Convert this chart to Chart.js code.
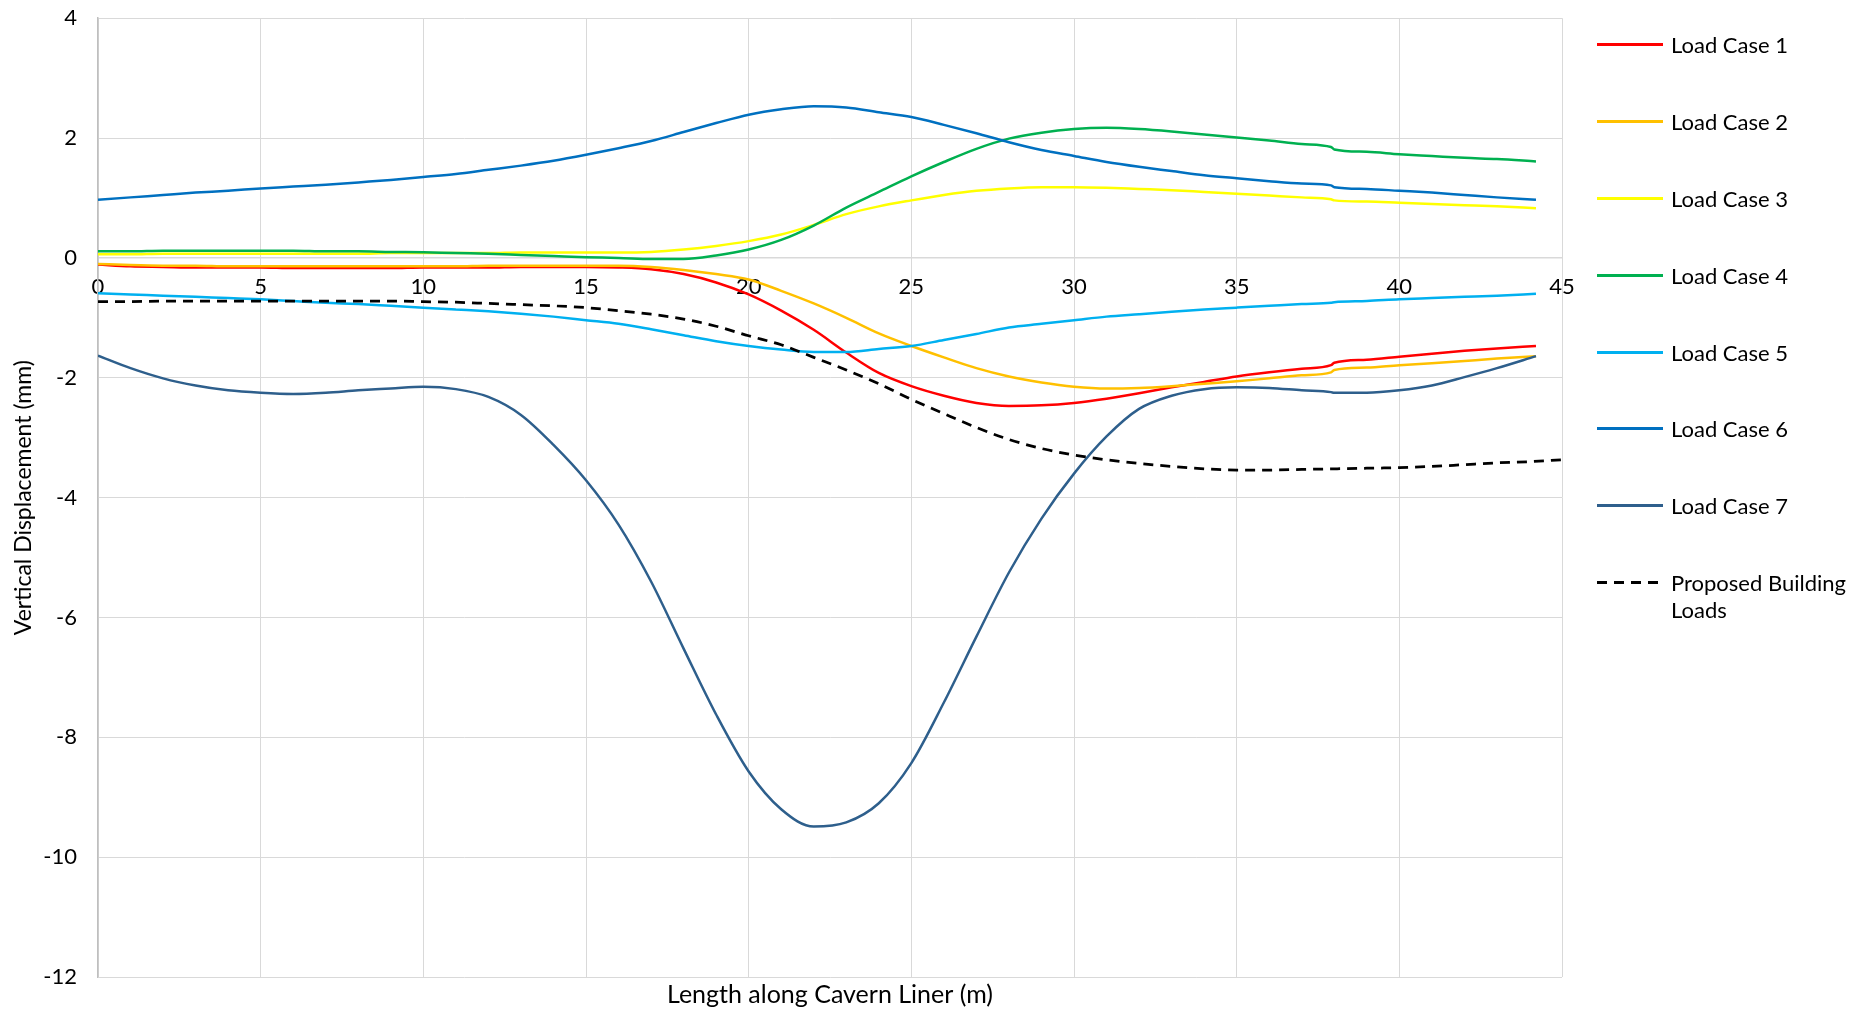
<!DOCTYPE html>
<html>
<head>
<meta charset="utf-8">
<script src="https://cdn.jsdelivr.net/npm/chart.js@4.4.1/dist/chart.umd.min.js"></script>
<style>
  html, body { margin: 0; padding: 0; background: #fff; overflow: hidden; }
  #wrap { position: relative; width: 1865px; height: 1012px; overflow: hidden; font-family: Lato, "Open Sans", sans-serif; }
  #chart { position: absolute; left: 0; top: -16px; }
  .lg { position: absolute; left: 1597px; width: 66px; height: 3px; }
  .lt { position: absolute; left: 1671px; font-size: 22px; line-height: 27px; color: #000; white-space: nowrap; }
</style>
</head>
<body>
<div id="wrap">
  <canvas id="chart" width="1865" height="1028"></canvas>
  <div id="legend"></div>
</div>
<script>
// Length along cavern liner (m) for the load cases
const lengthM = [0,1,2,3,4,5,6,7,8,9,10,11,12,13,14,15,16,17,18,19,20,21,22,23,24,25,26,27,28,29,30,31,32,33,34,35,36,37,37.9,38,39,40,41,42,43,44.2];
// Length along cavern liner (m) for the proposed building loads
const lengthBuilding = [0,1,2,3,4,5,6,7,8,9,10,11,12,13,14,15,16,17,18,19,20,21,22,23,24,25,26,27,28,29,30,31,32,33,34,35,36,37,38,39,40,41,42,43,44,45];

const seriesNames = ["Load Case 1","Load Case 2","Load Case 3","Load Case 4","Load Case 5","Load Case 6","Load Case 7","Proposed Building Loads"];
const seriesColors = ["#FF0000","#FFC000","#FFFF00","#00B050","#00B0F0","#0070C0","#2E5F8C","#000000"];

const loadCase1 = [-0.11,-0.14,-0.15,-0.16,-0.16,-0.16,-0.17,-0.17,-0.17,-0.17,-0.16,-0.16,-0.16,-0.15,-0.15,-0.15,-0.16,-0.19,-0.27,-0.41,-0.61,-0.88,-1.20,-1.58,-1.92,-2.14,-2.30,-2.42,-2.47,-2.46,-2.42,-2.35,-2.26,-2.16,-2.07,-1.98,-1.91,-1.85,-1.79,-1.75,-1.70,-1.65,-1.60,-1.55,-1.51,-1.47];
const loadCase2 = [-0.10,-0.12,-0.13,-0.13,-0.14,-0.14,-0.14,-0.14,-0.14,-0.14,-0.14,-0.14,-0.13,-0.13,-0.13,-0.13,-0.13,-0.15,-0.20,-0.27,-0.36,-0.55,-0.76,-1.00,-1.26,-1.47,-1.66,-1.84,-1.98,-2.08,-2.15,-2.18,-2.17,-2.14,-2.10,-2.06,-2.01,-1.96,-1.91,-1.87,-1.83,-1.79,-1.76,-1.72,-1.68,-1.64];
const loadCase3 = [0.06,0.06,0.07,0.07,0.07,0.07,0.07,0.07,0.07,0.08,0.08,0.08,0.08,0.09,0.09,0.09,0.09,0.10,0.14,0.20,0.28,0.39,0.55,0.73,0.86,0.96,1.05,1.12,1.16,1.18,1.18,1.17,1.15,1.13,1.10,1.07,1.04,1.01,0.98,0.96,0.94,0.92,0.90,0.88,0.86,0.83];
const loadCase4 = [0.11,0.11,0.12,0.12,0.12,0.12,0.12,0.11,0.11,0.10,0.095,0.08,0.07,0.05,0.03,0.01,0.00,-0.02,-0.02,0.04,0.14,0.30,0.54,0.84,1.10,1.36,1.60,1.82,1.99,2.09,2.15,2.17,2.15,2.11,2.06,2.01,1.96,1.90,1.85,1.81,1.77,1.73,1.70,1.67,1.65,1.61];
const loadCase5 = [-0.59,-0.61,-0.63,-0.65,-0.67,-0.69,-0.72,-0.75,-0.77,-0.80,-0.83,-0.86,-0.89,-0.93,-0.98,-1.04,-1.10,-1.19,-1.29,-1.39,-1.47,-1.53,-1.57,-1.57,-1.52,-1.47,-1.37,-1.27,-1.16,-1.10,-1.04,-0.98,-0.94,-0.90,-0.86,-0.83,-0.80,-0.77,-0.75,-0.74,-0.72,-0.69,-0.67,-0.65,-0.63,-0.60];
const loadCase6 = [0.97,1.01,1.05,1.09,1.12,1.16,1.19,1.22,1.26,1.30,1.35,1.40,1.47,1.54,1.62,1.72,1.83,1.95,2.10,2.25,2.39,2.48,2.53,2.51,2.43,2.35,2.22,2.08,1.93,1.80,1.70,1.60,1.52,1.45,1.38,1.33,1.28,1.24,1.21,1.18,1.15,1.12,1.09,1.05,1.01,0.97];
const loadCase7 = [-1.63,-1.84,-2.01,-2.13,-2.21,-2.25,-2.27,-2.25,-2.21,-2.18,-2.15,-2.19,-2.32,-2.62,-3.12,-3.71,-4.45,-5.40,-6.52,-7.62,-8.57,-9.20,-9.49,-9.42,-9.10,-8.43,-7.42,-6.32,-5.25,-4.35,-3.60,-2.98,-2.52,-2.30,-2.19,-2.16,-2.17,-2.21,-2.24,-2.25,-2.25,-2.21,-2.13,-1.99,-1.84,-1.64];
const buildingLoads = [-0.73,-0.73,-0.72,-0.72,-0.72,-0.72,-0.72,-0.72,-0.72,-0.72,-0.73,-0.74,-0.76,-0.78,-0.80,-0.83,-0.88,-0.94,-1.02,-1.14,-1.30,-1.45,-1.66,-1.87,-2.10,-2.36,-2.60,-2.83,-3.03,-3.18,-3.29,-3.37,-3.43,-3.48,-3.52,-3.54,-3.54,-3.53,-3.52,-3.51,-3.50,-3.48,-3.45,-3.42,-3.40,-3.37];

const yTicks = [-12,-10,-8,-6,-4,-2,0,2,4];
const xTicks = [0,5,10,15,20,25,30,35,40,45];

const FONT = "Lato, 'Open Sans', sans-serif";

function pts(xs, ys) { return ys.map((v, i) => ({ x: xs[i], y: v })); }

const allValues = [loadCase1, loadCase2, loadCase3, loadCase4, loadCase5, loadCase6, loadCase7];
const datasets = allValues.map((vals, i) => ({
  label: seriesNames[i],
  data: pts(lengthM, vals),
  borderColor: seriesColors[i],
  backgroundColor: seriesColors[i],
  borderWidth: 2.5,
  pointRadius: 0,
  cubicInterpolationMode: 'monotone',
  fill: false,
  order: 20 - i
}));
datasets.push({
  label: seriesNames[7],
  data: pts(lengthBuilding, buildingLoads),
  borderColor: seriesColors[7],
  backgroundColor: seriesColors[7],
  borderWidth: 2.75,
  borderDash: [10, 7],
  pointRadius: 0,
  cubicInterpolationMode: 'monotone',
  fill: false,
  order: 1
});

new Chart(document.getElementById('chart'), {
  type: 'line',
  data: { datasets },
  options: {
    responsive: false,
    animation: false,
    layout: { padding: { top: 0, right: 303, bottom: 0, left: 0 } },
    plugins: { legend: { display: false }, tooltip: { enabled: false } },
    scales: {
      x: {
        type: 'linear',
        min: 0, max: 45,
        position: { y: 0 },
        afterBuildTicks: (s) => { s.ticks = xTicks.map(v => ({ value: v })); },
        ticks: { color: '#000', font: { family: FONT, size: 22 }, padding: 16, maxRotation: 0, autoSkip: false },
        grid: { color: '#D9D9D9', lineWidth: 1, drawTicks: false },
        border: { color: '#D9D9D9', width: 1.5 }
      },
      x2: {
        type: 'linear',
        min: 0, max: 45,
        position: 'bottom',
        afterFit: (s) => { s.height = 35; },
        ticks: { display: false },
        grid: { display: false, drawTicks: false },
        border: { display: false },
        title: { display: true, text: 'Length along Cavern Liner (m)', color: '#000', font: { family: FONT, size: 25 }, padding: { top: 0, bottom: 2 } }
      },
      y: {
        type: 'linear',
        min: -12, max: 4,
        afterBuildTicks: (s) => { s.ticks = yTicks.map(v => ({ value: v })); },
        afterFit: (s) => { s.width = 98; },
        ticks: { color: '#000', font: { family: FONT, size: 22 }, padding: 21 },
        grid: { color: '#D9D9D9', lineWidth: 1, drawTicks: false },
        border: { color: '#BFBFBF', width: 1.5 },
        title: { display: true, text: 'Vertical Displacement (mm)', color: '#000', font: { family: FONT, size: 23 }, padding: { top: 10, bottom: 0 } }
      }
    }
  }
});

// HTML legend
const legendY = [44, 121.5, 198.5, 275, 352, 428.5, 505, 582];
const legend = document.getElementById('legend');
seriesNames.forEach((name, i) => {
  const line = document.createElement('div');
  line.className = 'lg';
  line.style.top = (legendY[i] - 1.5) + 'px';
  if (i === 7) {
    line.style.background = 'repeating-linear-gradient(to right, #000 0 10px, transparent 10px 17px)';
  } else {
    line.style.background = seriesColors[i];
  }
  legend.appendChild(line);
  const txt = document.createElement('div');
  txt.className = 'lt';
  txt.style.top = (legendY[i] - 13.5) + 'px';
  if (i === 7) {
    txt.innerHTML = 'Proposed Building<br>Loads';
  } else {
    txt.textContent = name;
  }
  legend.appendChild(txt);
});
</script>
</body>
</html>
